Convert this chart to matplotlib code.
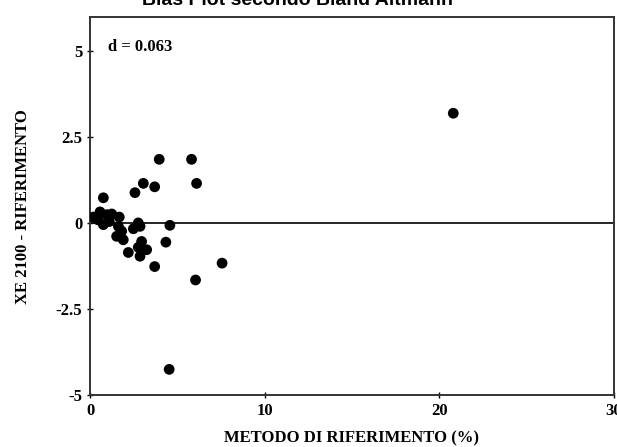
import numpy as np
import matplotlib.pyplot as plt

# values
rif = [3.96, 5.81, 6.1, 3.05, 3.7, 2.57, 0.76,
       0.19, 0.57, 0.95, 1.24, 1.67, 0.76, 1.62, 1.81, 1.52, 1.9,
       2.48, 2.76, 2.86, 4.57, 4.34, 2.95, 2.76, 3.24, 2.19, 2.86,
       3.7, 7.56, 6.04, 4.53, 20.8, 0.45, 1.1]
diff = [1.86, 1.86, 1.16, 1.16, 1.06, 0.89, 0.74,
        0.18, 0.33, 0.25, 0.27, 0.18, -0.04, -0.09, -0.23, -0.38, -0.48,
        -0.16, 0.01, -0.09, -0.06, -0.55, -0.53, -0.70, -0.77, -0.85, -0.96,
        -1.26, -1.16, -1.65, -4.25, 3.2, 0.1, 0.05]
mean_diff = 0.063

yticks = [5, 2.5, 0, -2.5, -5]
ytick_labels = ['5', '2.5', '0', '-2.5', '-5']
xticks = [0, 10, 20, 30]

fig = plt.figure(figsize=(6.17, 4.47), dpi=100)
ax = fig.add_axes([0.146, 0.116, 0.849, 0.846])

serif = {'family': 'Liberation Serif', 'weight': 'bold'}

ax.scatter(rif, diff, s=60, c='black', edgecolors='none', zorder=3)
ax.axhline(0, color='black', lw=1.2, zorder=2)

ax.set_xlim(0, 30)
ax.set_ylim(-5, 6)
ax.set_yticks(yticks)
ax.set_yticklabels(ytick_labels, fontdict=serif, fontsize=12)
ax.set_xticks(xticks)
ax.set_xticklabels([str(t) for t in xticks], fontdict=serif, fontsize=12)
ax.tick_params(direction='inout', length=5, width=1, pad=3)

for s in ax.spines.values():
    s.set_linewidth(1.4)
    s.set_color('#333333')

ax.set_xlabel('METODO DI RIFERIMENTO (%)', fontdict=serif, fontsize=12, labelpad=8)
ax.set_ylabel('XE 2100 - RIFERIMENTO', fontdict=serif, fontsize=12, labelpad=18)

ax.text(0.035, 0.92, f'd = {mean_diff:.3f}', transform=ax.transAxes,
        fontdict=serif, fontsize=12, va='center')

# title cut off by the scan
fig.text(0.23, 0.988, 'Bias Plot secondo Bland Altmann', family='Liberation Sans',
         weight='bold', fontsize=14, va='baseline')

fig.savefig('out.png', dpi=100)
